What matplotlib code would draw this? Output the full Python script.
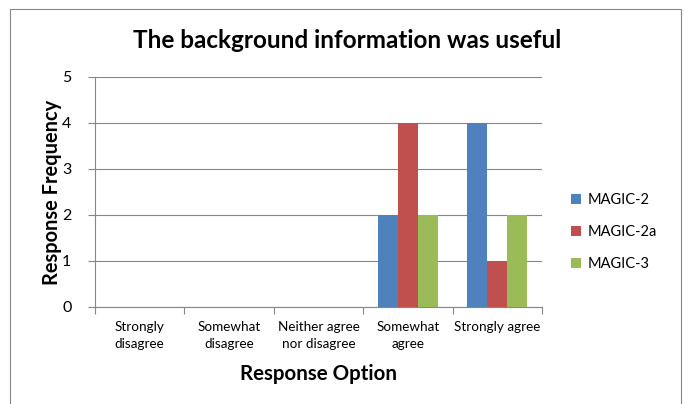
import numpy as np
import matplotlib.pyplot as plt
from matplotlib.patches import Rectangle

plt.rcParams['font.family'] = ['Lato', 'DejaVu Sans']

categories = ["Strongly\ndisagree", "Somewhat\ndisagree", "Neither agree\nnor disagree",
              "Somewhat\nagree", "Strongly agree"]
series_names = ["MAGIC-2", "MAGIC-2a", "MAGIC-3"]
magic2 = [0, 0, 0, 2, 4]
magic2a = [0, 0, 0, 4, 1]
magic3 = [0, 0, 0, 2, 2]
colors = ["#4f81bd", "#c0504d", "#9bbb59"]

fig = plt.figure(figsize=(6.85, 4.04), dpi=100)
ax = fig.add_axes([95/685, 97/404, 447/685, 230/404])

x = np.arange(len(categories))
w = 0.224
for i, (vals, name) in enumerate(zip([magic2, magic2a, magic3], series_names)):
    ax.bar(x + (i - 1) * w, vals, w, color=colors[i], label=name, zorder=3)

ax.set_xlim(-0.5, len(categories) - 0.5)
ax.set_ylim(0, 5)
ax.set_yticks(range(6))
ax.yaxis.grid(True, color="#868686", lw=0.8, zorder=0)
ax.set_xticks(np.arange(len(categories) + 1) - 0.5)
ax.set_xticklabels([])
ax.set_xticks(x, minor=True)
ax.set_xticklabels(categories, minor=True, fontsize=9.7, linespacing=1.55)
ax.tick_params(axis="x", which="minor", length=0, pad=10)
ax.tick_params(axis="x", which="major", length=5, color="#868686")
ax.tick_params(axis="y", length=5, color="#868686", labelsize=11.5, pad=12)
for s in ["top", "right"]:
    ax.spines[s].set_visible(False)
for s in ["left", "bottom"]:
    ax.spines[s].set_color("#868686")

ax.set_xlabel("Response Option", fontsize=14.8, fontweight="bold", labelpad=10)
ax.set_ylabel("Response Frequency", fontsize=14.4, fontweight="bold", labelpad=0)
fig.text(347/685, 1 - 40/404, "The background information was useful",
         ha="center", va="center", fontsize=17.5, fontweight="bold")

leg = ax.legend(loc="center left", frameon=False, fontsize=10.5, handlelength=0.7,
                handleheight=0.7, handletextpad=0.4, labelspacing=1.25)
leg.set_bbox_to_anchor((558/685, 1 - 232/404), transform=fig.transFigure)

fig.patches.append(Rectangle((10/685, -0.05), 671/685, 1.05 - 9/404, transform=fig.transFigure,
                             fill=False, ec="#868686", lw=0.8))

fig.savefig("out.png", dpi=100)
